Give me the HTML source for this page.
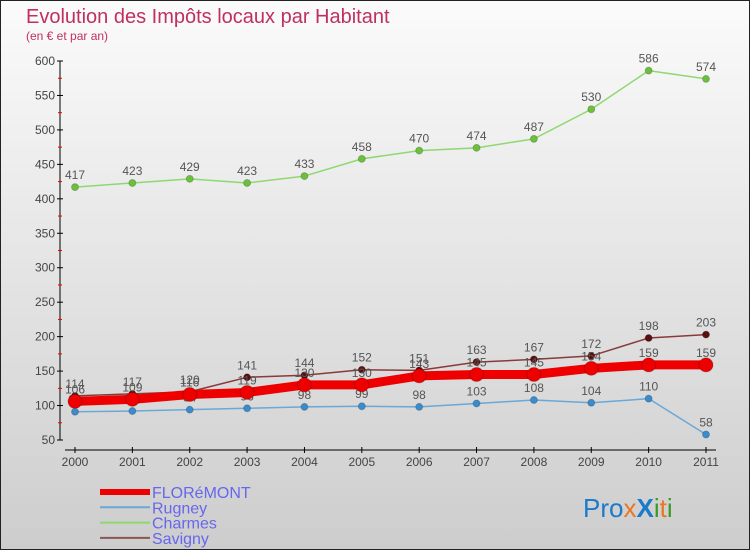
<!DOCTYPE html>
<html><head><meta charset="utf-8"><style>
body{margin:0;width:750px;height:550px;overflow:hidden;font-family:"Liberation Sans",sans-serif}
svg{display:block}
</style></head><body>
<svg id="chart" width="750" height="550" xmlns="http://www.w3.org/2000/svg">
<defs><linearGradient id="bg" x1="0" y1="0" x2="0" y2="1"><stop offset="0" stop-color="#fbfbfb"/><stop offset="1" stop-color="#cdcdcd"/></linearGradient></defs>
<rect x="0.5" y="0.5" width="749" height="549" fill="url(#bg)" stroke="#222"/>
<text x="26" y="23" font-size="20" fill="#c0305e">Evolution des Impôts locaux par Habitant</text>
<text x="26" y="40" font-size="12" fill="#c0305e">(en € et par an)</text>
<g id="axes"></g><g id="series"></g><g id="legend"></g>
<text x="583" y="517" font-size="26"><tspan fill="#1a7acc">Pro</tspan><tspan fill="#e87722">x</tspan><tspan fill="#1a7acc" font-weight="bold">X</tspan><tspan fill="#3a9a2a">i</tspan><tspan fill="#e87722">t</tspan><tspan fill="#3a9a2a">i</tspan></text>
</svg>
<script>
const years=[2000,2001,2002,2003,2004,2005,2006,2007,2008,2009,2010,2011];
const yTicks=[50,100,150,200,250,300,350,400,450,500,550,600];
const floremont=[106,109,116,119,130,130,143,145,145,154,159,159];
const rugney=[91,92,94,96,98,99,98,103,108,104,110,58];
const charmes=[417,423,429,423,433,458,470,474,487,530,586,574];
const savigny=[114,117,120,141,144,152,151,163,167,172,198,203];
const NS="http://www.w3.org/2000/svg";
const X=i=>75+i*(706-75)/11;
const Y=v=>440-(v-50)*(379/550);
function mk(tag,attrs,parent,txt){const e=document.createElementNS(NS,tag);for(const k in attrs)e.setAttribute(k,attrs[k]);if(txt!==undefined)e.textContent=txt;parent.appendChild(e);return e;}
const ax=document.getElementById('axes');
let e=mk('line',{x1:60,y1:61,x2:60,y2:440,stroke:'#000'},ax);

e=mk('line',{x1:65,y1:450,x2:716,y2:450,stroke:'#000'},ax);

yTicks.forEach((t,i)=>{
 mk('line',{x1:57,y1:Y(t),x2:63,y2:Y(t),stroke:'#000'},ax);
 if(i<yTicks.length-1)mk('line',{x1:58,y1:Y(t+25),x2:62,y2:Y(t+25),stroke:'#e00'},ax);
 e=mk('text',{x:55,y:Y(t)+4,'font-size':12,fill:'#444','text-anchor':'end'},ax,t);
 
});
years.forEach((yr,i)=>{
 mk('line',{x1:X(i),y1:447,x2:X(i),y2:453,stroke:'#000'},ax);
 e=mk('text',{x:X(i),y:466,'font-size':12,fill:'#444','text-anchor':'middle'},ax,yr);
 
});
const sg=document.getElementById('series');
const series=[
 {name:'charmes',vals:charmes,color:'#8fd870',dot:'#6cc13c',w:1.5,r:3.5},
 {name:'rugney',vals:rugney,color:'#6aa8d8',dot:'#3a8ccc',w:1.5,r:3.5},
 {name:'savigny',vals:savigny,color:'#8a3a3a',dot:'#5a1010',w:1.5,r:3.5},
 {name:'floremont',vals:floremont,color:'#ee0000',dot:'#ee0000',w:9,r:7}
];
series.forEach(s=>{
 const g=mk('g',{},sg);
 const p=mk('polyline',{points:s.vals.map((v,i)=>X(i)+','+Y(v)).join(' '),fill:'none',stroke:s.color,'stroke-width':s.w,'stroke-linejoin':'round'},g);
 
 s.vals.forEach((v,i)=>{
  const c=mk('circle',{cx:X(i),cy:Y(v),r:s.r,fill:s.dot,stroke:'rgba(0,0,0,0.2)'},g);
  
  const t=mk('text',{x:X(i),y:Y(v)-8,'font-size':12,fill:'#555','text-anchor':'middle'},g,v);
  
 });
});
const lg=document.getElementById('legend');
const leg=[['FLORéMONT','#ee0000',6],['Rugney','#6aa8d8',2],['Charmes','#8fd870',2],['Savigny','#8a5555',2]];
leg.forEach((l,i)=>{
 const y=492+i*15.3;
 const g=mk('g',{},lg);
 mk('line',{x1:100,y1:y,x2:150,y2:y,stroke:l[1],'stroke-width':l[2]},g);
 mk('text',{x:152,y:y+6,'font-size':16,fill:'#6666ee'},g,l[0]);
});
</script>
</body></html>
